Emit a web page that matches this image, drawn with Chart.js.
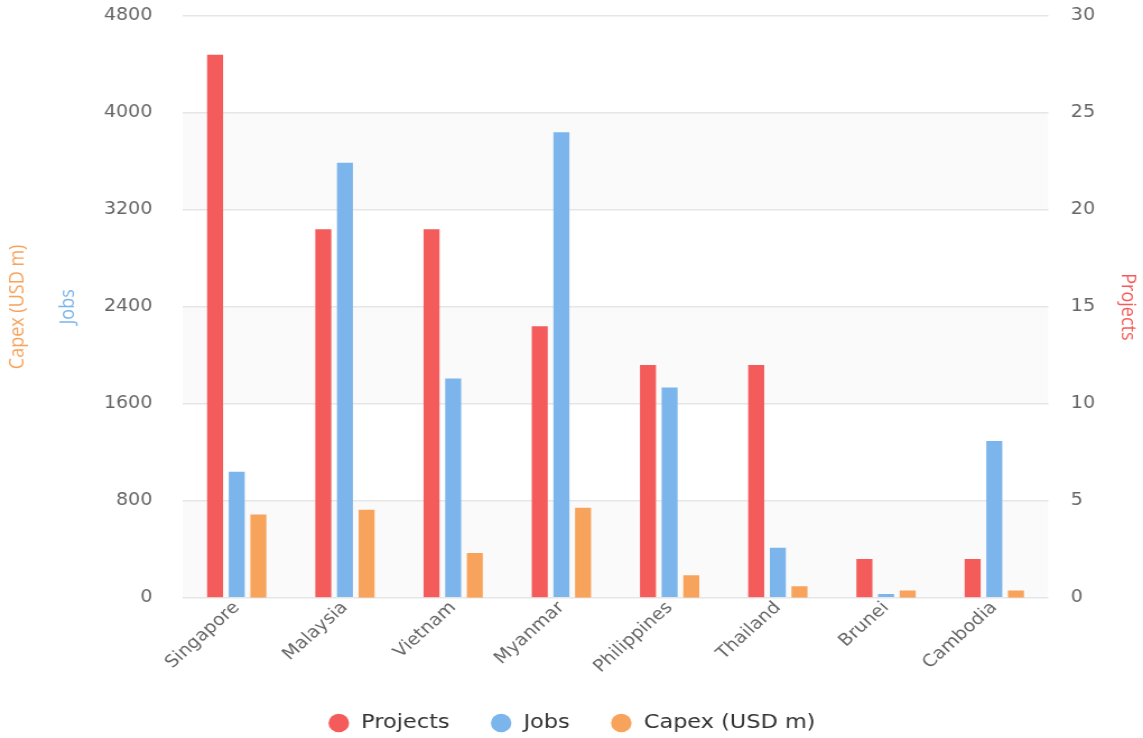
<!DOCTYPE html>
<html>
<head>
<meta charset="utf-8">
<script src="https://cdn.jsdelivr.net/npm/chart.js@4.4.0/dist/chart.umd.min.js"></script>
<style>
  html, body { margin: 0; padding: 0; background: #fff; overflow: hidden; }
  /* the reference is a slightly widened screenshot, so the chart is drawn
     1020px wide and stretched to the full 1143px */
  #wrap { width: 1020px; height: 738px; transform: scaleX(1.1206); transform-origin: 0 0; }
</style>
</head>
<body>
<div id="wrap"><canvas id="fdiChart" width="1020" height="738"></canvas></div>
<script>
// categories and series
const countries = ['Singapore', 'Malaysia', 'Vietnam', 'Myanmar', 'Philippines', 'Thailand', 'Brunei', 'Cambodia'];
const projects = [28, 19, 19, 14, 12, 12, 2, 2];
const jobs = [1040, 3590, 1810, 3840, 1735, 412, 31, 1294];
const capex = [688, 726, 370, 742, 186, 95, 60, 60];

// axis ranges
const leftMax = 4800;
const leftStep = 800;
const rightMax = 30;
const rightStep = 5;

const RED = '#f45b5b';
const BLUE = '#7cb5ec';
const ORANGE = '#f7a35c';
const tickFont = { family: 'DejaVu Sans', size: 17 };
const titleFont = { family: 'Open Sans', size: 18 };
const hiddenTick = 'rgba(0,0,0,0)';

// light alternating bands behind the grid, like the original
const bandPlugin = {
    id: 'bands',
    beforeDraw(chart) {
        const { ctx, chartArea } = chart;
        const scale = chart.scales.yJobs;
        ctx.save();
        ctx.fillStyle = 'rgba(0, 0, 0, 0.02)';
        for (let v = 0; v < leftMax; v += leftStep * 2) {
            const yBottom = scale.getPixelForValue(v);
            const yTop = scale.getPixelForValue(v + leftStep);
            ctx.fillRect(chartArea.left, yTop, chartArea.right - chartArea.left, yBottom - yTop);
        }
        ctx.restore();
    }
};

const plainTick = value => String(value);

const ctx = document.getElementById('fdiChart').getContext('2d');
const fdiChart = new Chart(ctx, {
    type: 'bar',
    data: {
        labels: countries,
        datasets: [
            { label: 'Projects', data: projects, backgroundColor: RED, yAxisID: 'yProj' },
            { label: 'Jobs', data: jobs, backgroundColor: BLUE, yAxisID: 'yJobs' },
            { label: 'Capex (USD m)', data: capex, backgroundColor: ORANGE, yAxisID: 'yCapex' },
        ],
    },
    options: {
        responsive: false,
        animation: false,
        devicePixelRatio: 1,
        layout: { padding: { top: 16, right: 0, bottom: -5, left: 0 } },
        datasets: {
            bar: { categoryPercentage: 0.6, barPercentage: 0.74 },
        },
        plugins: {
            tooltip: { enabled: false },
            legend: {
                position: 'bottom',
                labels: {
                    usePointStyle: true,
                    pointStyle: 'circle',
                    boxWidth: 20,
                    boxHeight: 13,
                    padding: 36,
                    color: '#333',
                    font: { family: 'DejaVu Sans', size: 20 },
                },
            },
        },
        scales: {
            x: {
                grid: { display: false, drawTicks: false },
                border: { display: false },
                ticks: {
                    color: '#666',
                    font: { family: 'DejaVu Sans', size: 17 },
                    minRotation: 45,
                    maxRotation: 45,
                    padding: 0,
                },
            },
            yJobs: {
                position: 'left',
                min: 0,
                max: leftMax,
                border: { display: false },
                grid: { color: '#e6e6e6', lineWidth: 1.5, tickLength: 24, tickColor: hiddenTick },
                ticks: { stepSize: leftStep, color: '#666', font: tickFont, padding: 3, callback: plainTick },
                title: {
                    display: true,
                    text: 'Jobs',
                    color: BLUE,
                    font: titleFont,
                    padding: { top: 13.6, bottom: 17.9 },
                },
            },
            yCapex: {
                position: 'left',
                min: 0,
                max: leftMax,
                border: { display: false },
                grid: { display: false, drawTicks: false },
                ticks: { display: false },
                title: {
                    display: true,
                    text: 'Capex (USD m)',
                    color: ORANGE,
                    font: titleFont,
                    padding: { top: 5, bottom: 10 },
                },
            },
            yProj: {
                position: 'right',
                min: 0,
                max: rightMax,
                border: { display: false },
                grid: { drawOnChartArea: false, tickLength: 17, tickColor: hiddenTick },
                ticks: { stepSize: rightStep, color: '#666', font: tickFont, padding: 3, callback: plainTick },
                title: {
                    display: true,
                    text: 'Projects',
                    color: RED,
                    font: titleFont,
                    padding: { top: 3.2, bottom: 15 },
                },
            },
        },
    },
    plugins: [bandPlugin],
});
</script>
</body>
</html>
